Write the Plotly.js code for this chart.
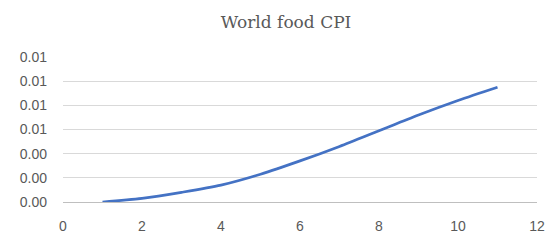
<!DOCTYPE html>
<html>
<head>
<meta charset="utf-8">
<script src="https://cdn.plot.ly/plotly-3.0.1.min.js"></script>
<style>html,body{margin:0;padding:0;background:#fff;}#chart{width:550px;height:245px;}</style>
</head>
<body>
<div id="chart"></div>
<script>
const periods = [1, 2, 3, 4, 5, 6, 7, 8, 9, 10, 11];
const worldFoodCPI = [0, 0.0003, 0.0008, 0.0014, 0.0023, 0.0034, 0.0046, 0.0059, 0.0072, 0.0084, 0.0095];
const chartTitle = "World food CPI";

const trace = {
  x: periods,
  y: worldFoodCPI,
  type: 'scatter',
  mode: 'lines',
  line: {color: '#4472c4', width: 2.75, shape: 'spline', smoothing: 0.8},
  hoverinfo: 'skip'
};

const tickFont = {family: 'Liberation Sans, Arial, sans-serif', size: 14, color: '#595959'};

const layout = {
  width: 550,
  height: 245,
  margin: {l: 63, r: 13, t: 57, b: 43},
  paper_bgcolor: '#ffffff',
  plot_bgcolor: '#ffffff',
  showlegend: false,
  title: {
    text: chartTitle,
    font: {family: 'DejaVu Serif, serif', size: 17, color: '#595959'},
    x: 0.52, xanchor: 'center', xref: 'container',
    y: 0.91, yanchor: 'middle', yref: 'container'
  },
  xaxis: {
    range: [0, 12],
    dtick: 2,
    tick0: 0,
    showgrid: false,
    zeroline: false,
    showline: false,
    ticks: '',
    ticklabelstandoff: 14,
    tickfont: tickFont,
    fixedrange: true
  },
  yaxis: {
    range: [0, 0.012],
    dtick: 0.002,
    tick0: 0,
    tickformat: '.2f',
    showgrid: true,
    gridcolor: '#d9d9d9',
    gridwidth: 1,
    zeroline: true,
    zerolinecolor: '#bfbfbf',
    zerolinewidth: 1,
    showline: false,
    ticks: '',
    ticklabelstandoff: 15,
    tickfont: tickFont,
    fixedrange: true
  }
};

Plotly.newPlot('chart', [trace], layout, {displayModeBar: false, staticPlot: true});
</script>
</body>
</html>
